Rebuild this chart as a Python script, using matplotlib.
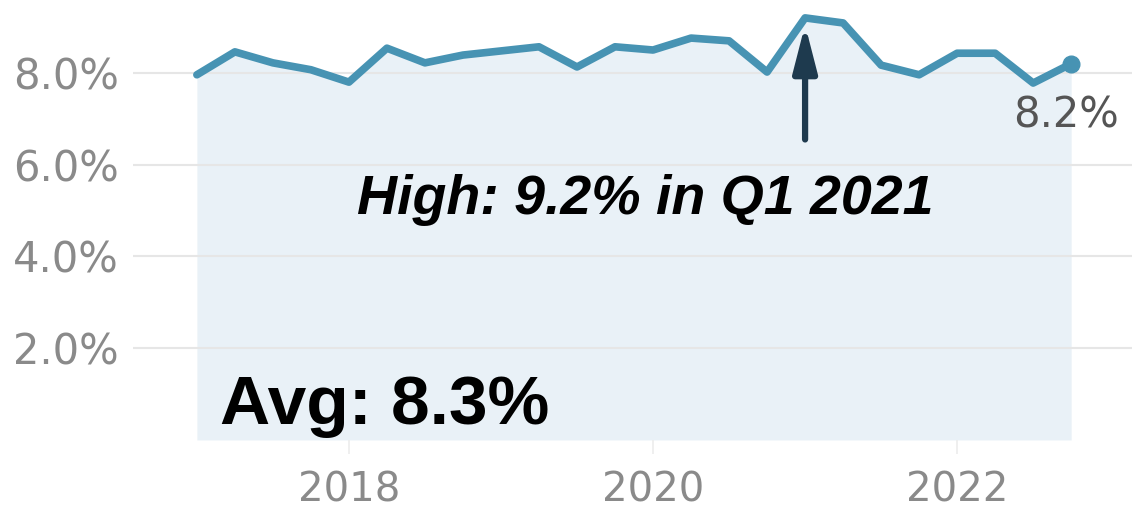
import numpy as np
import matplotlib.pyplot as plt

# quarterly values, Q1 2017 .. Q4 2022
years = [2017] * 4 + [2018] * 4 + [2019] * 4 + [2020] * 4 + [2021] * 4 + [2022] * 4
quarters = [1, 2, 3, 4] * 6
rate = [7.96, 8.46, 8.22, 8.07, 7.80, 8.54, 8.22, 8.39,
        8.48, 8.57, 8.13, 8.57, 8.50, 8.76, 8.70, 8.02,
        9.20, 9.09, 8.17, 7.96, 8.43, 8.43, 7.78, 8.20]

yticks = [2, 4, 6, 8]
ytick_labels = ["2.0%", "4.0%", "6.0%", "8.0%"]
xticks = [2018, 2020, 2022]
xtick_labels = ["2018", "2020", "2022"]

high_label = "High: 9.2% in Q1 2021"
avg_label = "Avg: 8.3%"
last_label = "8.2%"

x = np.array(years) + (np.array(quarters) - 1) / 4.0
y = np.array(rate)

fig = plt.figure(figsize=(11.32, 5.18), dpi=100)
ax = fig.add_axes([0.1175, 0.1506, 0.8825, 0.8494])

line_color = "#4793b3"
ax.fill_between(x, 0, y, color="#e9f1f7", zorder=1, linewidth=0)
ax.plot(x, y, color=line_color, linewidth=5.5, solid_joinstyle="round",
        solid_capstyle="round", zorder=3)
ax.plot(x[-1], y[-1], "o", color=line_color, markersize=12, zorder=4)

ax.set_xlim(2016.58, 2023.15)
ax.set_ylim(0, 9.59)

ax.set_yticks(yticks)
ax.set_yticklabels(ytick_labels)
ax.set_xticks(xticks)
ax.set_xticklabels(xtick_labels)
ax.grid(axis="y", color="#e6e6e6", linewidth=1.5, zorder=2)
ax.set_axisbelow(False)

for s in ax.spines.values():
    s.set_visible(False)

ax.tick_params(axis="y", length=0, pad=10, labelsize=30, labelcolor="#8a8a8a")
ax.tick_params(axis="x", length=10, width=1.2, color="#ececec", pad=12,
               labelsize=29, labelcolor="#8a8a8a")

# peak annotation
i_max = int(np.argmax(y))
ax.annotate("", xy=(x[i_max], y[i_max] - 0.15), xytext=(x[i_max], 6.55),
            arrowprops=dict(arrowstyle="-|>,head_width=0.18,head_length=0.7",
                            color="#1e3a4e", lw=4.5,
                            mutation_scale=40, shrinkA=0, shrinkB=0),
            zorder=5)
ax.text(2019.95, 5.24, high_label, ha="center", va="center",
        fontsize=40, fontweight="bold", fontstyle="italic",
        family="Liberation Sans", color="black", zorder=6)

ax.text(2017.15, 0.75, avg_label, ha="left", va="center",
        fontsize=50, fontweight="bold", family="Liberation Sans",
        color="black", zorder=6)

ax.annotate(last_label, xy=(x[-1], y[-1]), xytext=(-4, -22),
            textcoords="offset points", ha="center", va="top",
            fontsize=30, color="#555555", zorder=6)

fig.savefig("out.png", dpi=100)
